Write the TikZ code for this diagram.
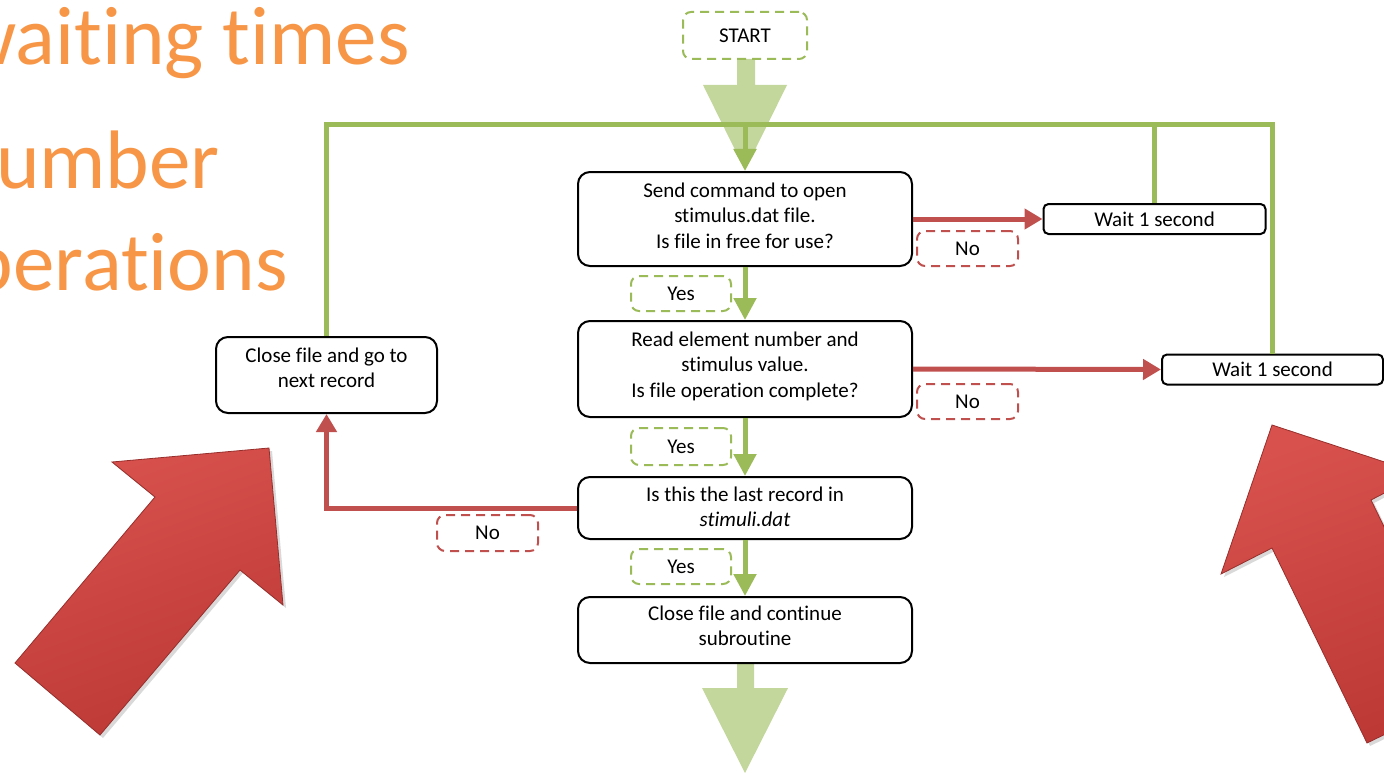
\documentclass[tikz,border=0pt]{standalone}
\usepackage{fontspec}
\setmainfont{Carlito}[Ligatures=NoCommon,RawFeature={-liga;-clig;-calt;-rlig;-dlig}]
\usetikzlibrary{arrows.meta}
\newcommand\ti{t\kern0pt i}
\definecolor{og}{HTML}{F79646}
\definecolor{gr}{HTML}{9BBB59}
\definecolor{lgr}{HTML}{C3D69B}
\definecolor{rd}{HTML}{C0504D}
\definecolor{arA}{HTML}{D8514D}
\definecolor{arB}{HTML}{BC3936}
\begin{document}
\begin{tikzpicture}[x=1pt,y=-1pt,
  txt/.style={font=\fontsize{21}{25.5}\selectfont,align=center,inner sep=0pt},
  box/.style={draw=black,line width=2pt,rounded corners=12pt,fill=white,inner sep=0pt},
  waitbox/.style={txt,draw=black,line width=2pt,rounded corners=5pt,fill=white,minimum width=222pt,minimum height=30pt},
  gdash/.style={txt,draw=gr,line width=2pt,dash pattern=on 9pt off 6pt,rounded corners=8pt,minimum width=100pt,minimum height=35pt},
  rdash/.style={txt,draw=rd,line width=2pt,dash pattern=on 9pt off 6pt,rounded corners=8pt,minimum width=101pt,minimum height=35pt},
  gline/.style={draw=gr,line width=5pt},
  rline/.style={draw=rd,line width=5pt},
  garrow/.style={gline,-{Triangle[length=22pt,width=22pt]}},
  rarrow/.style={rline,-{Triangle[length=18pt,width=20pt]}},
  bigtext/.style={anchor=base east,text=og,inner sep=0pt,font=\fontsize{83}{83}\selectfont},
  red3d/.style={left color=arA,right color=arB,shading angle=20,draw=arB!80!black,line width=0.8pt}
]
\useasboundingbox (0,0) rectangle (1384,773);
\begin{scope}
\clip (0,0) rectangle (1384,773);
% big orange title text, cut at the left edge
\node[bigtext] (t1) at (410,65) {wai\ti ng \ti mes};
\node[bigtext] (t2) at (220,188) {number};
\node[bigtext] (t3) at (288,290) {opera\ti ons};

% light green block arrows
\fill[lgr] (737,59) -- (755,59) -- (755,85) -- (787,85) -- (745,170) -- (703,85) -- (737,85) -- cycle;
\fill[lgr] (737,663) -- (754,663) -- (754,688) -- (788,688) -- (745,773) -- (702,688) -- (737,688) -- cycle;

% 3D red arrows
\fill[black,opacity=0.15] (18,666) -- (158,500) -- (115,465) -- (272,451) -- (286,608) -- (243,573) -- (103,738) -- cycle;
\shade[red3d] (15,663) -- (155,497) -- (112,462) -- (269,448) -- (283,605) -- (240,570) -- (100,735) -- cycle;
\fill[black,opacity=0.15] (1275,428) -- (1224,577) -- (1275,551) -- (1370,746) -- (1469,698) -- (1374,503) -- (1424,477) -- cycle;
\shade[red3d] (1272,425) -- (1221,574) -- (1272,548) -- (1367,743) -- (1466,695) -- (1371,500) -- (1421,474) -- cycle;

% nodes
\node[gdash,minimum width=124pt,minimum height=47pt] (start) at (745,35.5) {START};
\node[box,minimum width=334pt,minimum height=94pt] (b1) at (745,219) {};
\node[txt] (b1t) at (745,215.5) {Send command to open\\s\ti mulus.dat file.\\Is file in free for use?};
\node[box,minimum width=334pt,minimum height=96pt] (b2) at (745,369) {};
\node[txt] (b2t) at (745,366) {Read element number and\\s\ti mulus value.\\Is file opera\ti on complete?};
\node[box,minimum width=334pt,minimum height=62pt] (b3) at (745,508) {};
\node[txt] (b3t) at (745,507) {Is this the last record in\\\textit{s\ti muli.dat}};
\node[box,minimum width=334pt,minimum height=66pt] (b4) at (745,630) {};
\node[txt] (b4t) at (745,626) {Close file and con\ti nue\\subrou\ti ne};
\node[box,minimum width=221pt,minimum height=76pt] (close) at (326.5,375) {};
\node[txt] (closet) at (326.5,368) {Close file and go to\\next record};
\node[waitbox] (w1) at (1154.5,219) {Wait 1 second};
\node[waitbox,minimum width=221pt] (w2) at (1272.5,369.5) {Wait 1 second};

\node[rdash] (no1) at (967.5,248.5) {No};
\node[rdash] (no2) at (967.5,401.5) {No};
\node[rdash,minimum height=36pt] (no3) at (487.5,533) {No};
\node[gdash] (y1) at (681,293.5) {Yes};
\node[gdash,minimum height=37pt] (y2) at (681,446.5) {Yes};
\node[gdash] (y3) at (681,566.5) {Yes};

\coordinate (top) at (745,125);

% green loop
\draw[gline] (close.north) |- (top) -| (w2.north);
\draw[gline] (w1.north) -- (w1.north |- top);
\draw[garrow] (top) -- (b1.north);
\draw[garrow] (b1.south) -- (b2.north);
\draw[garrow] (b2.south) -- (b3.north);
\draw[garrow] (b3.south) -- (b4.north);

% red connectors
\draw[rarrow] (b1.east) -- (w1.west);
\draw[rarrow] (b2.east) -- (w2.west);
\draw[rarrow] (b3.west) -| (close.south);
\end{scope}
\end{tikzpicture}
\end{document}
